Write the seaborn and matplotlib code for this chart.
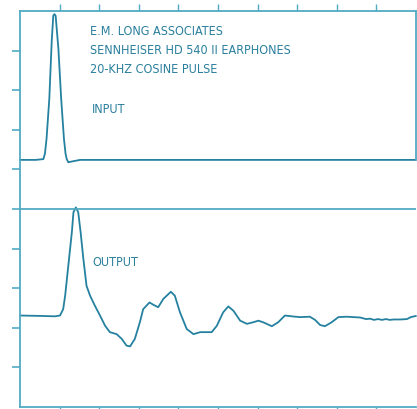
#!/usr/bin/env python3
"""
Impulse response plot: 20-kHz cosine pulse in, earphone response out.
Two traces drawn on one grid of 10 x 10 divisions (chart-recorder style).
"""

import matplotlib
matplotlib.use("Agg")
import matplotlib.pyplot as plt
import seaborn as sns
import pandas as pd

# Input trace (divisions): cosine pulse on the upper baseline
input_x = [0.00, 0.40, 0.59, 0.63, 0.67, 0.74, 0.80, 0.84, 0.87, 0.90, 0.97,
           1.04, 1.11, 1.15, 1.18, 1.22, 1.31, 1.52, 10.00]
input_y = [6.24, 6.24, 6.26, 6.40, 6.77, 7.78, 9.22, 9.88, 9.92, 9.88, 9.04,
           7.78, 6.77, 6.40, 6.26, 6.18, 6.20, 6.24, 6.24]

# Output trace (divisions): earphone response
output_x = [0.00, 0.51, 0.88, 1.01, 1.09, 1.14, 1.22, 1.31, 1.35, 1.41, 1.47,
            1.53, 1.60, 1.68, 1.77, 1.89, 2.02, 2.15, 2.27, 2.44, 2.57, 2.69,
            2.78, 2.90, 3.03, 3.11, 3.27, 3.37, 3.49, 3.62, 3.81, 3.91, 4.04,
            4.21, 4.38, 4.55, 4.71, 4.84, 4.97, 5.13, 5.26, 5.39, 5.56, 5.73,
            5.89, 6.02, 6.14, 6.36, 6.52, 6.69, 6.86, 7.07, 7.32, 7.45, 7.58,
            7.70, 7.87, 8.04, 8.25, 8.59, 8.74, 8.84, 8.94, 9.04, 9.14, 9.24,
            9.34, 9.44, 9.60, 9.77, 9.87, 10.00]
output_y = [2.31, 2.30, 2.29, 2.31, 2.47, 2.81, 3.57, 4.42, 4.92, 5.04, 4.92,
            4.42, 3.74, 3.06, 2.81, 2.56, 2.31, 2.05, 1.89, 1.84, 1.72, 1.55,
            1.53, 1.72, 2.15, 2.47, 2.64, 2.58, 2.52, 2.73, 2.91, 2.81, 2.39,
            1.97, 1.84, 1.89, 1.89, 1.89, 2.05, 2.39, 2.54, 2.43, 2.18, 2.10,
            2.14, 2.18, 2.14, 2.04, 2.14, 2.31, 2.29, 2.27, 2.28, 2.20, 2.07,
            2.04, 2.14, 2.27, 2.28, 2.26, 2.22, 2.23, 2.20, 2.22, 2.20, 2.22,
            2.20, 2.21, 2.21, 2.22, 2.27, 2.30]

div_ticks = [1, 2, 3, 4, 5, 6, 7, 8, 9]
title_lines = ["E.M. LONG ASSOCIATES",
               "SENNHEISER HD 540 II EARPHONES",
               "20-KHZ COSINE PULSE"]

TRACE = "#2581a0"
FRAME = "#52abc4"
INK = "#2a7f9c"

sns.set_style("white")
plt.rcParams["font.family"] = ["DejaVu Sans"]

fig = plt.figure(figsize=(4.17, 4.10), dpi=100)
ax = fig.add_axes([20 / 417, 2 / 410, 396 / 417, 396 / 410])

df_in = pd.DataFrame({"t": input_x, "v": input_y})
df_out = pd.DataFrame({"t": output_x, "v": output_y})
sns.lineplot(data=df_in, x="t", y="v", ax=ax, color=TRACE, lw=1.3,
             sort=False, estimator=None, clip_on=False)
sns.lineplot(data=df_out, x="t", y="v", ax=ax, color=TRACE, lw=1.3,
             sort=False, estimator=None, clip_on=False)

ax.set_xlim(0, 10)
ax.set_ylim(0, 10)
ax.set_xlabel("")
ax.set_ylabel("")

# frame: full left/top/bottom, right side only around the input panel
for side in ["left", "top", "bottom"]:
    ax.spines[side].set_color(FRAME)
    ax.spines[side].set_linewidth(1.3)
ax.spines["right"].set_visible(False)
ax.axvline(10, ymin=0.624, ymax=1.0, color=FRAME, lw=1.3, clip_on=False)
ax.axhline(5, color=FRAME, lw=1.3)

ax.set_xticks(div_ticks)
ax.set_yticks(div_ticks)
ax.tick_params(axis="y", left=True, direction="out", length=6, width=1.2,
               color=FRAME, labelleft=False)
ax.tick_params(axis="x", top=True, bottom=True, direction="out", length=5,
               width=1.0, color=FRAME, labelbottom=False, labeltop=False)
for t in ax.xaxis.get_major_ticks():
    t.tick2line.set_markersize(5)
    t.tick1line.set_markersize(2)

txt = dict(color=INK, fontsize=9, fontstretch="condensed",
           va="center", ha="left")
for i, line in enumerate(title_lines):
    ax.text(1.77, 9.52 - i * 0.49, line, **txt)
ax.text(1.82, 7.55, "INPUT", **txt)
ax.text(1.82, 3.68, "OUTPUT", **txt)

fig.savefig("out.png", dpi=100, facecolor="white")
